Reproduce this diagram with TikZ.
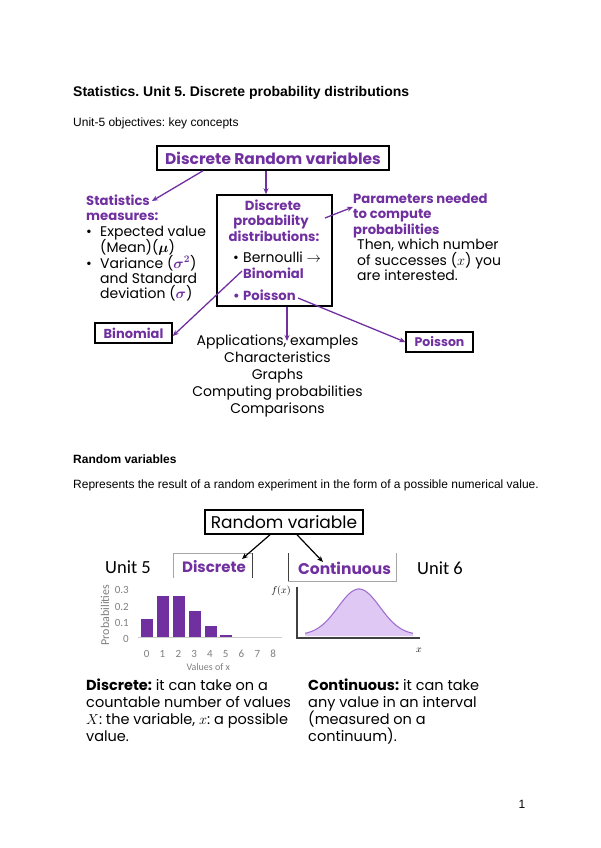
\documentclass[tikz,border=0pt]{standalone}
\usepackage{amsmath}
\usepackage{fontspec}
\setmainfont{Liberation Sans}
\newfontfamily\cg{Poppins}
\newfontfamily\calib{Carlito}
\usetikzlibrary{arrows.meta}
\definecolor{pur}{HTML}{7030A0}
\definecolor{lav}{HTML}{DFC8F3}
\definecolor{curv}{HTML}{A070D0}
\definecolor{axg}{HTML}{404040}
\definecolor{lg}{HTML}{A6A6A6}
\definecolor{tg}{HTML}{7F7F7F}
\frenchspacing
\begin{document}
\begin{tikzpicture}[x=1pt,y=-1pt,
  txt/.style={inner sep=0pt, anchor=base west},
  ctr/.style={inner sep=0pt, anchor=base},
  cgf/.style={font=\cg\fontsize{14}{14}\selectfont},
  cgb/.style={font=\cg\bfseries\fontsize{13.2}{13.2}\selectfont, text=pur},
  parr/.style={draw=pur, line width=1.3pt, -{Stealth[length=6pt,width=5pt]}},
  barr/.style={draw=black, line width=1.2pt, -{Stealth[length=6pt,width=5pt]}},
  bx/.style={draw=black, line width=1.5pt, inner sep=0pt},
  tick/.style={inner sep=0pt, font=\calib\fontsize{11}{11}\selectfont, text=tg},
  desc/.style={txt, font=\cg\fontsize{14.5}{14.5}\selectfont}]
\useasboundingbox (0,0) rectangle (600,848);

% ---- header texts
\node[txt, font=\bfseries\fontsize{14}{14}\selectfont] (title) at (73,97) {Statistics. Unit 5. Discrete probability distributions};
\node[txt, font=\fontsize{12}{12}\selectfont] (sub) at (73,126) {Unit-5 objectives: key concepts};

% ---- first diagram
\node[bx, minimum width=232pt, minimum height=24pt, font=\cg\bfseries\fontsize{15.5}{15.5}\selectfont, text=pur] (drv) at (273,158) {Discrete Random variables};

\node[bx, minimum width=115pt, minimum height=111pt] (dpd) at (274.5,250.5) {};
\node[ctr, cgb] (d1) at (273,210) {Discrete};
\node[ctr, cgb] (d2) at (271,225.5) {probability};
\node[ctr, cgb] (d3) at (274,241) {distributions:};
\node[txt, cgf] (b1) at (233,262.7) {\textbullet};
\node[txt, cgf] (d4) at (243,262.7) {Bernoulli $\rightarrow$};
\node[txt, cgb] (d5) at (243,278) {Binomial};
\node[txt, cgb] (b2) at (233,300) {\textbullet};
\node[txt, cgb] (d6) at (243,300) {Poisson};

\node[txt, cgb] (s1) at (86,205) {Statistics};
\node[txt, cgb] (s2) at (86,220.5) {measures:};
\node[txt, cgf] (s3b) at (86,236) {\textbullet};
\node[txt, cgf] (s3) at (100,236) {Expected value};
\node[txt, cgf] (s4) at (100,252) {(Mean)($\boldsymbol{\mu}$)};
\node[txt, cgf] (s5b) at (86,268) {\textbullet};
\node[txt, cgf] (s5) at (100,268) {Variance ($\color{pur}\boldsymbol{\sigma^2}$)};
\node[txt, cgf] (s6) at (100,283) {and Standard};
\node[txt, cgf] (s7) at (100,298) {deviation ($\color{pur}\boldsymbol{\sigma}$)};

\node[txt, cgb] (p1) at (353,203) {Parameters needed};
\node[txt, cgb] (p2) at (353,218.5) {to compute};
\node[txt, cgb] (p3) at (353,234) {probabilities};
\node[txt, cgf] (p4) at (357,249) {Then, which number};
\node[txt, cgf] (p5) at (357,265) {of successes ($x$) you};
\node[txt, cgf] (p6) at (357,280) {are interested.};

\node[bx, minimum width=77pt, minimum height=20pt, font=\cg\bfseries\fontsize{13}{13}\selectfont, text=pur] (binbox) at (133.5,333) {Binomial};
\node[bx, minimum width=67pt, minimum height=20pt, font=\cg\bfseries\fontsize{12.5}{12.5}\selectfont, text=pur] (poibox) at (439.5,342) {Poisson};

\node[ctr, font=\cg\fontsize{14}{14}\selectfont] (a1) at (277.5,345.5) {Applications, examples};
\node[ctr, font=\cg\fontsize{14}{14}\selectfont] (a2) at (277.5,362.5) {Characteristics};
\node[ctr, font=\cg\fontsize{14}{14}\selectfont] (a3) at (277.5,379.5) {Graphs};
\node[ctr, font=\cg\fontsize{14}{14}\selectfont] (a4) at (277.5,396.5) {Computing probabilities};
\node[ctr, font=\cg\fontsize{14}{14}\selectfont] (a5) at (277.5,413.5) {Comparisons};

\coordinate (tStat) at (152,201);
\coordinate (sPar) at (325,218);
\coordinate (tPar) at (353,207);
\coordinate (sBin) at (242,271);
\coordinate (sPoi) at (298,298);
\coordinate (tApp) at (287,341);

\draw[parr] ([xshift=-70pt]drv.south) -- (tStat);
\draw[parr] ([xshift=-7pt]drv.south) -- ([xshift=-8.5pt]dpd.north);
\draw[parr] (sPar) -- (tPar);
\draw[parr] (sBin) -- ([yshift=-3pt]binbox.east);
\draw[parr] ([xshift=12.5pt]dpd.south) -- (tApp);
\draw[parr] (sPoi) -- (poibox.west);

% ---- second section texts
\node[txt, font=\bfseries\fontsize{12}{12}\selectfont] (rvh) at (73,463) {Random variables};
\node[txt, font=\fontsize{12}{12}\selectfont] (rvt) at (73,488) {Represents the result of a random experiment in the form of a possible numerical value.};

\node[bx, minimum width=158pt, minimum height=24pt, font=\cg\fontsize{17}{17}\selectfont] (rv) at (284,522) {Random variable};

\draw[lg, line width=0.8pt] (173,578) -- (173,553) -- (252,553);
\draw[axg, line width=0.8pt] (252,553) -- (252,578);
\node[ctr, font=\cg\bfseries\fontsize{15}{15}\selectfont, text=pur] (dis) at (214,572.7) {Discrete};
\draw[axg, line width=0.8pt] (288,553) -- (288,581);
\draw[lg, line width=0.8pt] (288,581) -- (396,581) -- (396,553);
\node[ctr, font=\cg\bfseries\fontsize{15.5}{15.5}\selectfont, text=pur] (con) at (344.5,574) {Continuous};

\node[txt, font=\calib\fontsize{18.5}{18.5}\selectfont] (u5) at (105,573) {Unit 5};
\node[txt, font=\calib\fontsize{18.5}{18.5}\selectfont] (u6) at (417,574) {Unit 6};

\coordinate (tDis) at (242,559);
\coordinate (tCon) at (323,562);
\draw[barr] ([xshift=-14pt]rv.south) -- (tDis);
\draw[barr] ([xshift=13pt]rv.south) -- (tCon);

% ---- bar chart
\draw[lg!60, line width=0.6pt] (138,637) -- (282,637);
\foreach \c/\t in {147/619, 163/596, 179/596, 194.5/611, 210.5/626, 226/635}
  \fill[pur] (\c-6,\t) rectangle (\c+6,637);
\node[tick, anchor=east] (y3) at (129,590) {0.3};
\node[tick, anchor=east] (y2) at (129,606.5) {0.2};
\node[tick, anchor=east] (y1) at (129,622.7) {0.1};
\node[tick, anchor=east] (y0) at (129,639) {0};
\foreach \i in {0,...,8}
  \node[tick] (xt\i) at ({146.7+15.8*\i},654) {\i};
\node[tick, rotate=90, font=\calib\fontsize{12}{12}\selectfont] (ylab) at (105,615) {Probabilities};
\node[tick, font=\calib\fontsize{10}{10}\selectfont] (xlab) at (208.3,667) {Values of x};

% ---- bell curve
\fill[lav] (305,636) -- plot[domain=305:413, samples=60, smooth] (\x, {635-46*exp(-((\x-359)^2)/882)}) -- (413,636) -- cycle;
\draw[curv, line width=1.1pt] plot[domain=305:413, samples=60, smooth] (\x, {635-46*exp(-((\x-359)^2)/882)});
\draw[axg, line width=1.3pt] (297,587) -- (297,638) -- (420,638);
\node[inner sep=0pt, font=\fontsize{10}{10}\selectfont] (fx) at (281,591) {$f(x)$};
\node[inner sep=0pt, font=\fontsize{10}{10}\selectfont] (xl) at (419,650) {$x$};

% ---- descriptions
\node[desc] (e1) at (86,690) {\textbf{Discrete:} it can take on a};
\node[desc] (e2) at (86,707) {countable number of values};
\node[desc] (e3) at (86,724) {$X$: the variable, $x$: a possible};
\node[desc] (e4) at (86,741) {value.};
\node[desc] (c1) at (308,690) {\textbf{Continuous:} it can take};
\node[desc] (c2) at (308,707) {any value in an interval};
\node[desc] (c3) at (308,724) {(measured on a};
\node[desc] (c4) at (308,741) {continuum).};

\node[ctr, font=\fontsize{12}{12}\selectfont] (pg) at (522,808) {1};
\end{tikzpicture}
\end{document}
